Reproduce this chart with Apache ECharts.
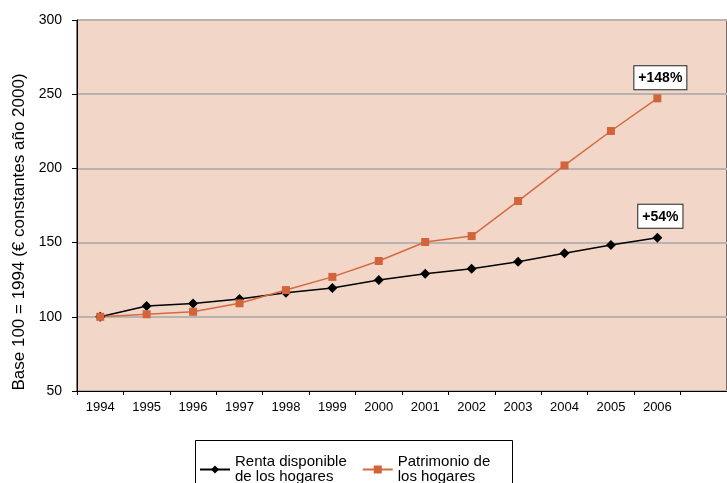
<!DOCTYPE html>
<html>
<head>
<meta charset="utf-8">
<script src="https://cdn.jsdelivr.net/npm/echarts@6/dist/echarts.min.js"></script>
<style>
  html, body { margin: 0; padding: 0; background: #fff; }
  #chart { width: 727px; height: 483px; }
</style>
</head>
<body>
<div id="chart"></div>
<script>
const years = ['1994', '1995', '1996', '1997', '1998', '1999', '2000', '2001', '2002', '2003', '2004', '2005', '2006', '']
const renta = [100, 107.3, 109, 112, 116.2, 119.4, 124.8, 129, 132.4, 137.1, 142.8, 148.4, 153.3]
const patrimonio = [100, 101.7, 103.4, 109.1, 118, 126.9, 137.6, 150.4, 154.4, 178, 202, 225.2, 247.2]
const seriesNames = ['Renta disponible de los hogares', 'Patrimonio de los hogares']
const legendLabels = ['Renta disponible\nde los hogares', 'Patrimonio de\nlos hogares']
const endLabels = ['+54%', '+148%']
const yTicks = { min: 50, max: 300, interval: 50 }

const chart = echarts.init(document.getElementById('chart'))

const boxLabel = (text) => ({
  show: true,
  position: 'top',
  distance: 5,
  offset: [3, 0],
  formatter: text,
  color: '#000',
  fontFamily: 'Liberation Sans, Arial',
  fontWeight: 'bold',
  fontSize: 14,
  backgroundColor: '#fff',
  borderColor: '#222',
  borderWidth: 1,
  padding: [5, 4, 4, 4]
})

function withEndLabel(values, text) {
  return values.map((v, i) => (i === values.length - 1 ? { value: v, label: boxLabel(text) } : v))
}

chart.setOption({
  animation: false,
  textStyle: { fontFamily: 'Liberation Sans, Arial', color: '#000' },
  grid: {
    left: 77, top: 20, right: -4, bottom: 92,
    show: true,
    backgroundColor: '#f2d7c9',
    borderColor: '#000',
    borderWidth: 1
  },
  legend: {
    left: 193,
    top: 447,
    padding: [0, 6, 0, 6],
    itemWidth: 30,
    itemHeight: 10,
    itemGap: 15,
    formatter: (name) => legendLabels[seriesNames.indexOf(name)],
    textStyle: { fontSize: 15, lineHeight: 15, color: '#000', padding: [15, 0, 0, 0] }
  },
  graphic: [
    {
      type: 'rect',
      left: 193, top: 438,
      shape: { width: 317, height: 60 },
      style: { fill: 'none', stroke: '#000', lineWidth: 1 },
      silent: true
    },
    {
      type: 'text',
      x: 19, y: 232,
      rotation: Math.PI / 2,
      style: {
        text: 'Base 100 = 1994 (€ constantes año 2000)',
        fontFamily: 'Liberation Sans, Arial',
        fontSize: 17,
        fill: '#000',
        align: 'center',
        verticalAlign: 'middle'
      }
    }
  ],
  xAxis: {
    type: 'category',
    data: years,
    boundaryGap: true,
    axisLine: { lineStyle: { color: '#000', width: 1 } },
    axisTick: { show: true, length: 4, lineStyle: { color: '#000' } },
    axisLabel: { color: '#000', fontSize: 13, margin: 10, interval: 0 },
    splitLine: { show: false }
  },
  yAxis: {
    type: 'value',
    min: yTicks.min,
    max: yTicks.max,
    interval: yTicks.interval,
    axisLine: { show: true, lineStyle: { color: '#000', width: 1 } },
    axisTick: { show: true, length: 5, lineStyle: { color: '#000' } },
    axisLabel: { color: '#000', fontSize: 14, margin: 15 },
    splitLine: { lineStyle: { color: '#b8b3b1', width: 2 } }
  },
  series: [
    {
      name: seriesNames[0],
      type: 'line',
      data: withEndLabel(renta, endLabels[0]),
      symbol: 'diamond',
      symbolSize: 10,
      lineStyle: { color: '#000', width: 1.5 },
      itemStyle: { color: '#000' }
    },
    {
      name: seriesNames[1],
      type: 'line',
      data: withEndLabel(patrimonio, endLabels[1]),
      symbol: 'rect',
      symbolSize: 8,
      lineStyle: { color: '#d5693f', width: 1.5 },
      itemStyle: { color: '#d2643c' }
    }
  ]
})
</script>
</body>
</html>
